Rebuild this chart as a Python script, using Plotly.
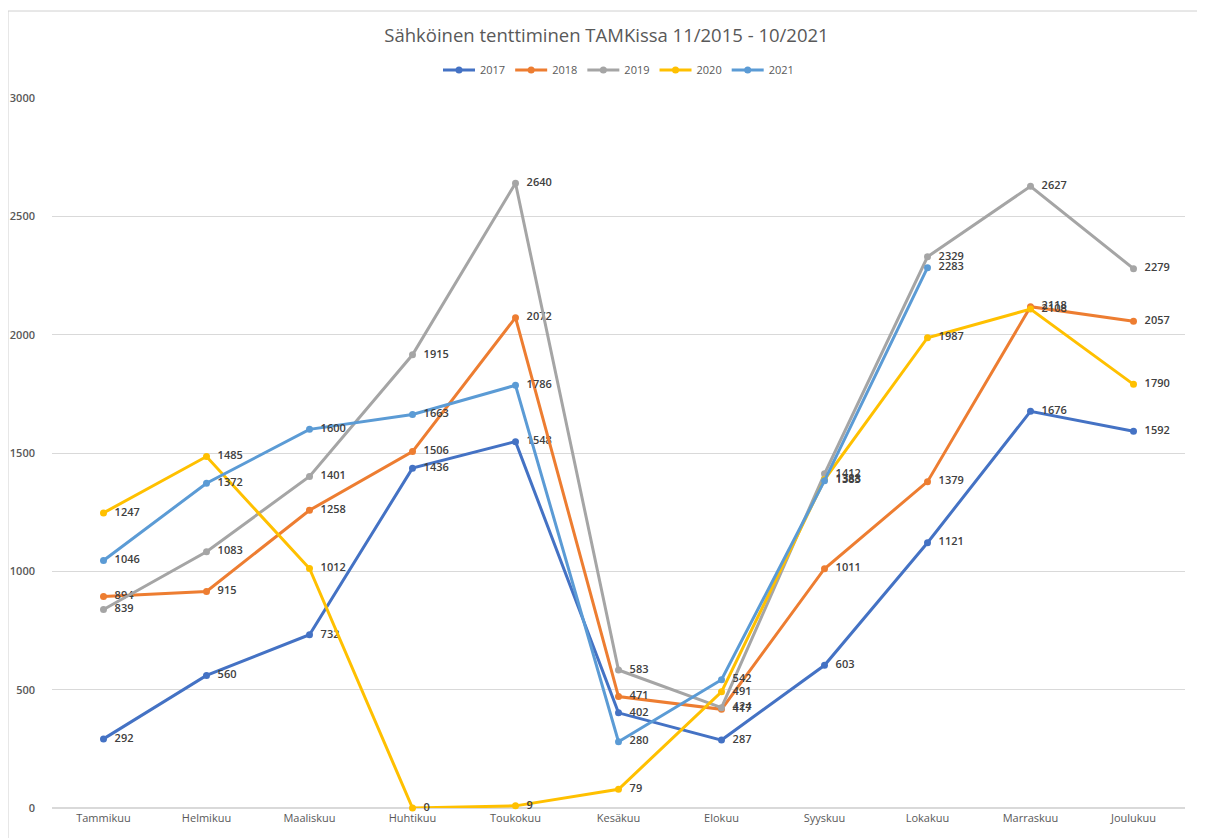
import plotly.graph_objects as go

months = ["Tammikuu", "Helmikuu", "Maaliskuu", "Huhtikuu", "Toukokuu", "Kesäkuu",
          "Elokuu", "Syyskuu", "Lokakuu", "Marraskuu", "Joulukuu"]

v2017 = [292, 560, 732, 1436, 1548, 402, 287, 603, 1121, 1676, 1592]
v2018 = [894, 915, 1258, 1506, 2072, 471, 417, 1011, 1379, 2118, 2057]
v2019 = [839, 1083, 1401, 1915, 2640, 583, 424, 1412, 2329, 2627, 2279]
v2020 = [1247, 1485, 1012, 0, 9, 79, 491, 1388, 1987, 2108, 1790]
v2021 = [1046, 1372, 1600, 1663, 1786, 280, 542, 1383, 2283]

series = [
    ("2017", v2017, "#4472C4"),
    ("2018", v2018, "#ED7D31"),
    ("2019", v2019, "#A5A5A5"),
    ("2020", v2020, "#FFC000"),
    ("2021", v2021, "#5B9BD5"),
]

fig = go.Figure()
for name, vals, col in series:
    fig.add_trace(go.Scatter(
        x=months[:len(vals)], y=vals, name=name,
        mode="lines+markers+text",
        line=dict(color=col, width=3),
        marker=dict(color=col, size=7),
        text=[f"\u00a0\u00a0{v}" for v in vals],
        textposition="middle right",
        textfont=dict(family="Open Sans", size=11, color="#404040", weight=600),
        cliponaxis=False,
    ))

# page body has an 8px margin; figure is sized/margined to compensate
W, H = 1197, 830
fig.update_layout(
    width=W, height=H,
    paper_bgcolor="white", plot_bgcolor="white",
    margin=dict(l=44, r=20, t=90, b=30, autoexpand=False),
    title=dict(text="Sähköinen tenttiminen TAMKissa 11/2015 - 10/2021",
               x=0.5, xanchor="center", y=(H - 28) / H, yanchor="middle",
               font=dict(family="Open Sans", size=18.5, color="#595959")),
    legend=dict(orientation="h", x=0.5, xanchor="center", y=1.0 + 28 / 710, yanchor="middle",
                font=dict(family="Open Sans", size=11, color="#595959"),
                itemwidth=32, tracegroupgap=0),
    font=dict(family="Open Sans", color="#595959"),
    showlegend=True,
)
fig.update_xaxes(type="category", categoryorder="array", categoryarray=months,
                 range=[-0.5, 10.5], showgrid=False, showline=False, zeroline=False,
                 automargin=False,
                 ticks="", tickfont=dict(size=11, color="#595959"), ticklabelstandoff=2)
fig.update_yaxes(range=[0, 3000], dtick=500, showgrid=True, gridcolor="#D9D9D9",
                 gridwidth=1, zeroline=True, zerolinecolor="#D9D9D9", showline=False,
                 automargin=False,
                 ticks="", tickfont=dict(size=11, color="#595959", weight=600),
                 ticklabelstandoff=16)

fig.add_shape(type="rect", xref="paper", yref="paper",
              x0=-44 / 1133, x1=(1210 - 52) / 1133,
              y0=-0.1, y1=(800 - 3) / 710,
              line=dict(color="#D0D0D0", width=1), fillcolor="rgba(0,0,0,0)", layer="below")

fig.write_html("out.html")
